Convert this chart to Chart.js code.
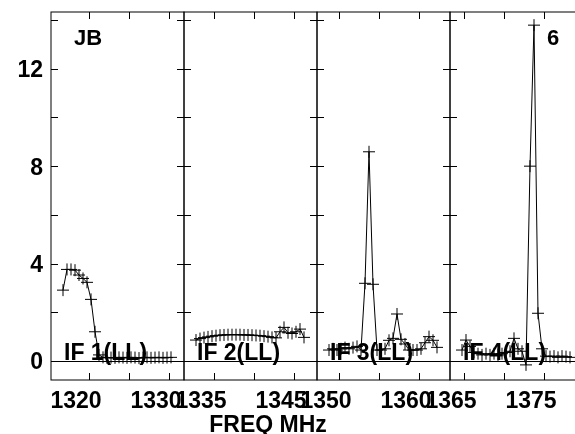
<!DOCTYPE html>
<html>
<head>
<meta charset="utf-8">
<script src="https://cdn.jsdelivr.net/npm/chart.js@4"></script>
<style>
  html, body { margin: 0; padding: 0; background: #fff; overflow: hidden; }
  #wrap { position: relative; width: 575px; height: 434px; overflow: hidden; }
  #wrap canvas { position: absolute; left: 0; top: 0; }
</style>
</head>
<body>
<div id="wrap">
  <canvas id="if1" width="590" height="434"></canvas>
  <canvas id="if2" width="590" height="434"></canvas>
  <canvas id="if3" width="590" height="434"></canvas>
  <canvas id="if4" width="590" height="434"></canvas>
</div>
<script>
// channel frequencies (MHz) per IF
const freqIF1 = [1316.75, 1317.25, 1317.75, 1318.25, 1318.75, 1319.25, 1319.75, 1320.25, 1320.75, 1321.25,
                 1321.75, 1322.25, 1322.75, 1323.25, 1323.75, 1324.25, 1324.75, 1325.25, 1325.75, 1326.25,
                 1326.75, 1327.25, 1327.75, 1328.25, 1328.75, 1329.25, 1329.75, 1330.25];
const freqIF2 = [1332.75, 1333.25, 1333.75, 1334.25, 1334.75, 1335.25, 1335.75, 1336.25, 1336.75, 1337.25,
                 1337.75, 1338.25, 1338.75, 1339.25, 1339.75, 1340.25, 1340.75, 1341.25, 1341.75, 1342.25,
                 1342.75, 1343.25, 1343.75, 1344.25, 1344.75, 1345.25, 1345.75, 1346.25];
const freqIF3 = [1348.75, 1349.25, 1349.75, 1350.25, 1350.75, 1351.25, 1351.75, 1352.25, 1352.75, 1353.25,
                 1353.75, 1354.25, 1354.75, 1355.25, 1355.75, 1356.25, 1356.75, 1357.25, 1357.75, 1358.25,
                 1358.75, 1359.25, 1359.75, 1360.25, 1360.75, 1361.25, 1361.75, 1362.25];
const freqIF4 = [1364.75, 1365.25, 1365.75, 1366.25, 1366.75, 1367.25, 1367.75, 1368.25, 1368.75, 1369.25,
                 1369.75, 1370.25, 1370.75, 1371.25, 1371.75, 1372.25, 1372.75, 1373.25, 1373.75, 1374.25,
                 1374.75, 1375.25, 1375.75, 1376.25, 1376.75, 1377.25, 1377.75, 1378.25];

// amplitudes
const ampIF1 = [2.91, 3.76, 3.76, 3.73, 3.53, 3.39, 3.23, 2.53, 1.20, 0.25,
                0.15, 0.13, 0.14, 0.13, 0.15, 0.14, 0.13, 0.15, 0.14, 0.12,
                0.14, 0.15, 0.13, 0.14, 0.15, 0.13, 0.14, 0.15];
const ampIF2 = [0.86, 0.92, 0.96, 0.99, 1.02, 1.04, 1.06, 1.07, 1.08, 1.08,
                1.08, 1.08, 1.07, 1.07, 1.06, 1.05, 1.04, 1.02, 1.00, 0.97,
                0.95, 1.20, 1.38, 1.16, 1.13, 1.20, 1.31, 0.97];
const ampIF3 = [0.45, 0.50, 0.45, 0.50, 0.55, 0.50, 0.55, 0.60, 0.45, 3.19,
                8.59, 3.15, 0.45, 0.45, 0.50, 0.85, 0.93, 1.93, 0.89, 0.70,
                0.45, 0.45, 0.45, 0.50, 0.75, 1.00, 0.85, 0.56];
const ampIF4 = [0.45, 0.86, 0.60, 0.35, 0.30, 0.25, 0.30, 0.25, 0.30, 0.25,
                0.30, 0.35, 0.40, 0.93, 0.50, 0.40, -0.16, 8.00, 13.79, 1.96,
                0.50, 0.20, 0.18, 0.20, 0.15, 0.20, 0.18, 0.15];

const ifNames = ['IF 1(LL)', 'IF 2(LL)', 'IF 3(LL)', 'IF 4(LL)'];
const xTickMarks = [[1320, 1325, 1330], [1335, 1340, 1345], [1350, 1355, 1360], [1365, 1370, 1375]];
const xTickLabels = [[1320, 1330], [1335, 1345], [1350, 1360], [1365, 1375]];
const yTickMarks = [0, 2, 4, 6, 8, 10, 12, 14];
const yTickLabels = [0, 4, 8, 12];

const FONT = '"Liberation Sans", Arial, Helvetica, sans-serif';
Chart.defaults.font.family = FONT;
Chart.defaults.font.weight = 'bold';
Chart.defaults.color = '#000';

// panel placement on the page (px) and frequency window of each panel
const panelLeft = [51, 184, 317, 450];
const panelWidth = 133;
const xMin = [1315.25, 1331.25, 1347.25, 1363.25];
const xMax = [1331.875, 1347.875, 1363.875, 1379.875];
const CANVAS_W = 590;

const framePlugin = {
    id: 'frame',
    afterDatasetsDraw(chart, args, opts) {
        const ctx = chart.ctx;
        const a = chart.chartArea;
        const xs = chart.scales.x, ys = chart.scales.y;
        ctx.save();
        // box
        ctx.strokeStyle = '#000';
        ctx.lineWidth = 1;
        ctx.strokeRect(a.left, a.top, a.right - a.left, a.bottom - a.top);
        // inward ticks + zero line
        ctx.beginPath();
        opts.xMarks.forEach(v => {
            const px = Math.round(xs.getPixelForValue(v)) + 0.5;
            ctx.moveTo(px, a.bottom); ctx.lineTo(px, a.bottom - 7);
            ctx.moveTo(px, a.top); ctx.lineTo(px, a.top + 7);
        });
        yTickMarks.forEach(v => {
            const py = Math.round(ys.getPixelForValue(v)) + 0.5;
            ctx.moveTo(a.left, py); ctx.lineTo(a.left + 7, py);
            ctx.moveTo(a.right, py); ctx.lineTo(a.right - 7, py);
        });
        const y0 = Math.round(ys.getPixelForValue(0)) + 0.5;
        ctx.moveTo(a.left, y0); ctx.lineTo(a.right, y0);
        ctx.stroke();

        // texts
        ctx.fillStyle = '#000';
        ctx.textAlign = 'left';
        ctx.textBaseline = 'alphabetic';
        ctx.font = 'bold 23px ' + FONT;
        ctx.fillText(opts.name, a.left + 13, 360);
        if (opts.corner) {
            ctx.font = 'bold 22px ' + FONT;
            ctx.fillText(opts.corner, a.left + opts.cornerX, 45);
        }
        if (opts.title) {
            ctx.font = 'bold 23px ' + FONT;
            ctx.textAlign = 'center';
            ctx.fillText(opts.title, 268, 432);
        }
        ctx.restore();
    }
};

function makePanel(id, i, freqs, amps, extra) {
    const ctx = document.getElementById(id).getContext('2d');
    const left = i === 0 ? 0 : panelLeft[i];
    const right = CANVAS_W - panelLeft[i] - panelWidth;
    return new Chart(ctx, {
        type: 'line',
        data: {
            datasets: [{
                data: freqs.map((f, k) => ({ x: f, y: amps[k] })),
                borderColor: '#000',
                borderWidth: 1,
                tension: 0,
                fill: false,
                pointStyle: 'cross',
                pointRadius: 6,
                pointBorderColor: '#000',
                pointBorderWidth: 1,
                clip: false
            }]
        },
        plugins: [framePlugin],
        options: {
            responsive: false,
            animation: false,
            events: [],
            layout: { padding: { left: left, right: right, top: 12, bottom: 0 } },
            scales: {
                x: {
                    type: 'linear',
                    min: xMin[i],
                    max: xMax[i],
                    grid: { display: false, drawTicks: false },
                    border: { display: false },
                    afterBuildTicks: s => { s.ticks = xTickMarks[i].map(v => ({ value: v })); },
                    afterFit: s => { s.height = 54; },
                    ticks: {
                        autoSkip: false,
                        maxRotation: 0,
                        padding: 8,
                        labelOffset: -13,
                        font: { size: 23, weight: 'bold' },
                        callback: v => xTickLabels[i].includes(v) ? String(v) : ''
                    }
                },
                y: {
                    min: -0.78,
                    max: 14.33,
                    display: i === 0,
                    grid: { display: false, drawTicks: false },
                    border: { display: false },
                    afterBuildTicks: s => { s.ticks = yTickLabels.map(v => ({ value: v })); },
                    afterFit: s => {
                        s.width = i === 0 ? 51 : 0;
                        s.paddingTop = 0;
                        s.paddingBottom = 0;
                    },
                    ticks: {
                        padding: 8,
                        labelOffset: 2,
                        font: { size: 23, weight: 'bold' },
                        callback: v => String(v)
                    }
                }
            },
            plugins: {
                legend: { display: false },
                tooltip: { enabled: false },
                frame: Object.assign({ xMarks: xTickMarks[i], name: ifNames[i] }, extra)
            }
        }
    });
}

makePanel('if1', 0, freqIF1, ampIF1, { corner: 'JB', cornerX: 23, title: 'FREQ MHz' });
makePanel('if2', 1, freqIF2, ampIF2, {});
makePanel('if3', 2, freqIF3, ampIF3, {});
makePanel('if4', 3, freqIF4, ampIF4, { corner: '6', cornerX: 97 });
</script>
</body>
</html>
